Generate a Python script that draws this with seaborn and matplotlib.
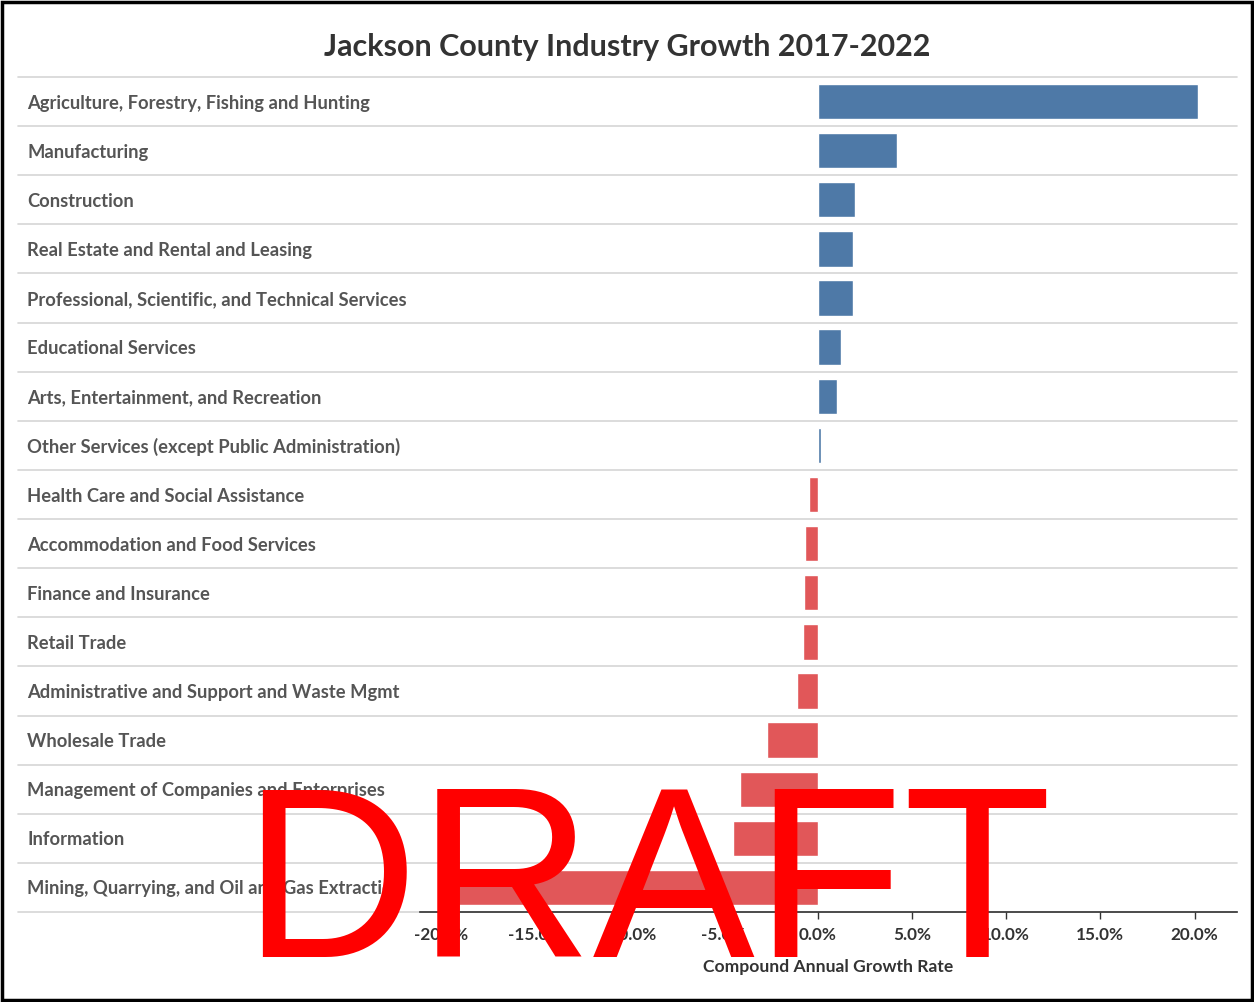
import matplotlib
matplotlib.use("Agg")
import matplotlib.pyplot as plt
import seaborn as sns
import pandas as pd
from matplotlib.patches import Rectangle
from matplotlib.ticker import FuncFormatter

industries = [
    "Agriculture, Forestry, Fishing and Hunting",
    "Manufacturing",
    "Construction",
    "Real Estate and Rental and Leasing",
    "Professional, Scientific, and Technical Services",
    "Educational Services",
    "Arts, Entertainment, and Recreation",
    "Other Services (except Public Administration)",
    "Health Care and Social Assistance",
    "Accommodation and Food Services",
    "Finance and Insurance",
    "Retail Trade",
    "Administrative and Support and Waste Mgmt",
    "Wholesale Trade",
    "Management of Companies and Enterprises",
    "Information",
    "Mining, Quarrying, and Oil and Gas Extraction",
]
growth = [20.2, 4.2, 2.0, 1.85, 1.85, 1.25, 1.0, 0.2, -0.45, -0.65, -0.75,
          -0.8, -1.1, -2.7, -4.1, -4.5, -19.2]
x_ticks = [-20, -15, -10, -5, 0, 5, 10, 15, 20]

df = pd.DataFrame({"Industry": industries, "CAGR": growth})
df["Sign"] = ["pos" if v >= 0 else "neg" for v in df["CAGR"]]

sns.set_theme(style="white")
plt.rcParams["font.family"] = ["Lato", "DejaVu Sans"]

W, H = 1254, 1002
fig = plt.figure(figsize=(W / 100, H / 100), dpi=100)
L, R, T, B = 420, 1237, 77, 912
ax = fig.add_axes([L / W, 1 - B / H, (R - L) / W, (B - T) / H])

sns.barplot(data=df, y="Industry", x="CAGR", hue="Sign",
            palette={"pos": "#4e79a7", "neg": "#e15759"},
            orient="h", width=0.72, dodge=False, legend=False, ax=ax,
            saturation=1)

ax.set_xlim(-21.1, 22.25)
ax.set_ylim(len(industries) - 0.5, -0.5)
ax.set_xticks(x_ticks)
ax.xaxis.set_major_formatter(FuncFormatter(lambda v, p: f"{v:.1f}%"))
ax.set_ylabel("")
ax.set_xlabel("Compound Annual Growth Rate", fontsize=12.6, fontweight="bold",
              color="#333333", labelpad=11)

for s in ["top", "right", "left"]:
    ax.spines[s].set_visible(False)
ax.spines["bottom"].set_color("#333333")
ax.spines["bottom"].set_linewidth(1.2)
ax.spines["bottom"].set_zorder(5)

ax.tick_params(axis="x", length=5, width=1, color="#333333", labelsize=12.3,
               labelcolor="#333333", pad=6, bottom=True)
for lab in ax.get_xticklabels():
    lab.set_fontweight("bold")
ax.tick_params(axis="y", length=0, pad=(L - 27) * 0.72, labelsize=13.2,
               labelcolor="#555555")
for lab in ax.get_yticklabels():
    lab.set_ha("left")
    lab.set_fontweight("bold")

ext = (L - 18) / (R - L)
for i in range(len(industries) + 1):
    ax.axhline(i - 0.5, xmin=-ext, xmax=1.0, color="#d6d6d6", lw=1.2,
               clip_on=False, zorder=0)

fig.text(0.5, 1 - 47 / H, "Jackson County Industry Growth 2017-2022",
         ha="center", va="center", fontsize=22, fontweight="bold", color="#333333")

fig.text(647 / W, 1 - 957 / H, "DRAFT", ha="center", va="baseline",
         fontsize=175, color="#ff0000", family="Liberation Sans", zorder=10)

fig.add_artist(Rectangle((0.0015, 0.002), 0.997, 0.996, transform=fig.transFigure,
                         fill=False, edgecolor="black", lw=2.5))

fig.savefig("out.png", dpi=100, facecolor="white")
